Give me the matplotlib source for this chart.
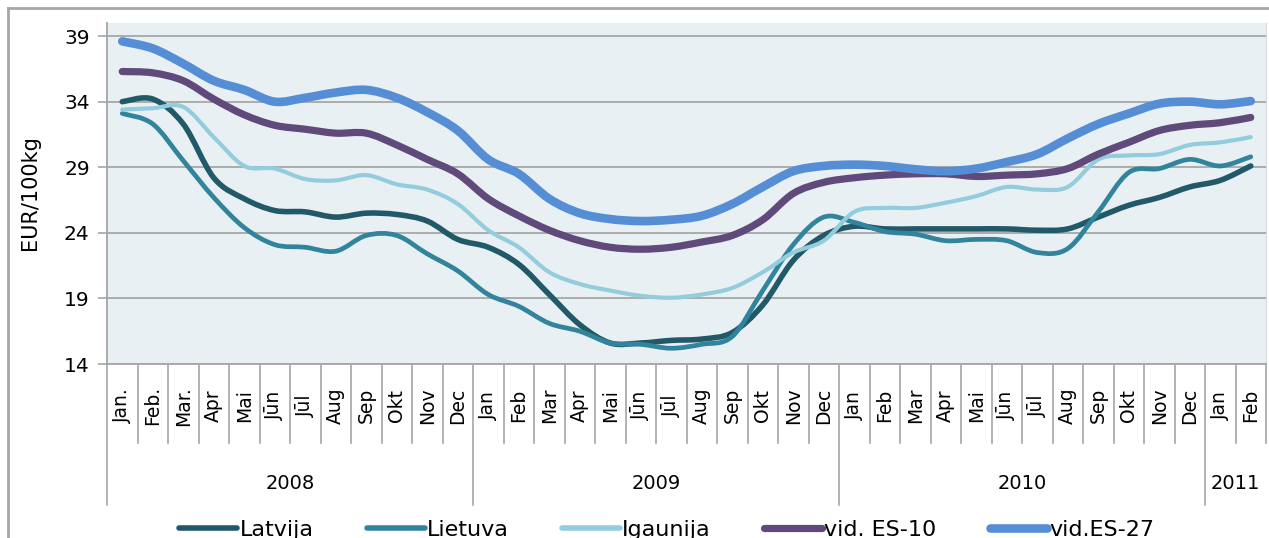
import numpy as np
import matplotlib.pyplot as plt
from matplotlib.path import Path
from matplotlib.patches import PathPatch
from matplotlib.lines import Line2D

# Mēneši (Jan 2008 - Feb 2011)
menesi = ["Jan.", "Feb.", "Mar.", "Apr", "Mai", "Jūn", "Jūl", "Aug", "Sep", "Okt", "Nov", "Dec",
          "Jan", "Feb", "Mar", "Apr", "Mai", "Jūn", "Jūl", "Aug", "Sep", "Okt", "Nov", "Dec",
          "Jan", "Feb", "Mar", "Apr", "Mai", "Jūn", "Jūl", "Aug", "Sep", "Okt", "Nov", "Dec",
          "Jan", "Feb"]
gadi = ["2008", "2009", "2010", "2011"]
gadu_garums = [12, 12, 12, 2]

# Cenas, EUR/100kg
latvija = [34.0, 34.2, 32.3, 28.2, 26.6, 25.7, 25.6, 25.2, 25.5, 25.4, 24.9, 23.5,
           22.9, 21.6, 19.3, 17.0, 15.6, 15.6, 15.8, 15.9, 16.4, 18.5, 21.9, 23.8,
           24.5, 24.3, 24.3, 24.3, 24.3, 24.3, 24.2, 24.3, 25.2, 26.1, 26.7, 27.5,
           28.0, 29.1]
lietuva = [33.1, 32.3, 29.5, 26.7, 24.4, 23.1, 22.9, 22.6, 23.8, 23.8, 22.4, 21.1,
           19.3, 18.4, 17.1, 16.5, 15.6, 15.5, 15.2, 15.5, 16.1, 19.6, 23.1, 25.2,
           24.8, 24.1, 23.9, 23.4, 23.5, 23.4, 22.5, 22.8, 25.6, 28.6, 28.9, 29.6,
           29.1, 29.8]
igaunija = [33.4, 33.5, 33.6, 31.3, 29.1, 28.9, 28.1, 28.0, 28.4, 27.7, 27.3, 26.2,
            24.2, 22.9, 21.0, 20.1, 19.6, 19.2, 19.05, 19.3, 19.8, 21.0, 22.5, 23.4,
            25.6, 25.9, 25.9, 26.3, 26.8, 27.5, 27.3, 27.5, 29.6, 29.9, 30.0, 30.7,
            30.9, 31.3]
es10 = [36.3, 36.2, 35.6, 34.2, 33.0, 32.2, 31.9, 31.6, 31.6, 30.7, 29.6, 28.5,
        26.6, 25.3, 24.2, 23.4, 22.9, 22.75, 22.9, 23.3, 23.8, 25.0, 27.0, 27.85,
        28.2, 28.4, 28.5, 28.5, 28.3, 28.4, 28.5, 28.9, 30.0, 30.9, 31.8, 32.2,
        32.4, 32.8]
es27 = [38.6, 38.06, 36.9, 35.6, 34.9, 34.0, 34.3, 34.7, 34.9, 34.3, 33.2, 31.8,
        29.6, 28.5, 26.6, 25.5, 25.05, 24.9, 25.0, 25.3, 26.2, 27.5, 28.7, 29.1,
        29.2, 29.1, 28.85, 28.7, 28.9, 29.4, 30.0, 31.2, 32.3, 33.1, 33.85, 34.0,
        33.8, 34.05]

serijas = [
    ("Latvija", latvija, "#215968", 4.0),
    ("Lietuva", lietuva, "#31849B", 3.4),
    ("Igaunija", igaunija, "#93CDDD", 3.0),
    ("vid. ES-10", es10, "#604A7B", 5.2),
    ("vid.ES-27", es27, "#558ED5", 6.2),
]

plt.rcParams['font.family'] = ['DejaVu Sans']

W, H = 1269, 538
fig = plt.figure(figsize=(W / 100, H / 100), dpi=100)
fig.patch.set_facecolor('white')
ax = fig.add_axes([107 / W, (H - 364) / H, (1266 - 107) / W, (364 - 23) / H])
ax.set_facecolor('#E9F0F4')


def gluda_liknes_cels(x, y):
    # Excel veida gluda līkne (Catmull-Rom -> Bezier)
    pts = np.column_stack([x, y]).astype(float)
    verts = [pts[0]]
    codes = [Path.MOVETO]
    n = len(pts)
    for i in range(n - 1):
        p0 = pts[i - 1] if i > 0 else pts[i]
        p1 = pts[i]
        p2 = pts[i + 1]
        p3 = pts[i + 2] if i + 2 < n else pts[i + 1]
        c1 = p1 + (p2 - p0) / 6
        c2 = p2 - (p3 - p1) / 6
        verts += [c1, c2, p2]
        codes += [Path.CURVE4] * 3
    return Path(verts, codes)


x = np.arange(len(menesi))
roktura = []
for nosaukums, vertibas, krasa, lw in serijas:
    patch = PathPatch(gluda_liknes_cels(x, vertibas), facecolor='none', edgecolor=krasa,
                      lw=lw, capstyle='round', joinstyle='round', zorder=3)
    ax.add_patch(patch)
    roktura.append(Line2D([], [], color=krasa, lw=max(lw, 4.0), solid_capstyle='round', label=nosaukums))

ax.set_xlim(-0.5, len(menesi) - 0.5)
ax.set_ylim(14, 40)
ax.set_yticks(range(14, 40, 5))
ax.yaxis.grid(True, color='#A6A6A6', lw=1.3)
ax.set_axisbelow(True)
ax.tick_params(axis='y', labelsize=14.5, length=6.5, width=1.2, color='#A6A6A6', pad=6)

ax.set_xticks(x)
ax.set_xticklabels(menesi, rotation=90, va='center', ha='center', fontsize=13.5)
ax.tick_params(axis='x', length=0, pad=30)

ax.spines['top'].set_visible(False)
for s in ['left', 'bottom']:
    ax.spines[s].set_color('#A6A6A6')
    ax.spines[s].set_linewidth(1.3)
ax.spines['right'].set_color('#D6DCE0')

# daudzlīmeņu kategoriju ass
trans = ax.get_xaxis_transform()
robezas_gadi = np.cumsum([0] + gadu_garums) - 0.5
for b in np.arange(-0.5, len(menesi) + 0.5, 1.0):
    if b in robezas_gadi[:-1]:
        ax.plot([b, b], [0, -0.413], color='#A6A6A6', lw=1.2, transform=trans, clip_on=False)
    else:
        ax.plot([b, b], [0, -0.232], color='#A6A6A6', lw=1.2, transform=trans, clip_on=False)
for i, g in enumerate(gadi):
    centrs = (robezas_gadi[i] + robezas_gadi[i + 1]) / 2
    ax.text(centrs, -0.349, g, transform=trans, ha='center', va='center', fontsize=14)

fig.text(30 / W, 1 - 193 / H, "EUR/100kg", rotation=90, ha='center', va='center', fontsize=15)

# ārējais rāmis
fig.add_artist(Line2D([8 / W, 1.0], [1 - 8 / H, 1 - 8 / H], color='#A6A6A6', lw=2.0))
fig.add_artist(Line2D([8 / W, 8 / W], [0, 1 - 8 / H], color='#A6A6A6', lw=2.0))

fig.legend(handles=roktura, loc='center', bbox_to_anchor=(667 / W, 8 / H), ncol=5,
           frameon=False, fontsize=16, handlelength=2.6, handletextpad=0.1,
           columnspacing=2.4, borderaxespad=0)

fig.savefig('out.png', dpi=100)
